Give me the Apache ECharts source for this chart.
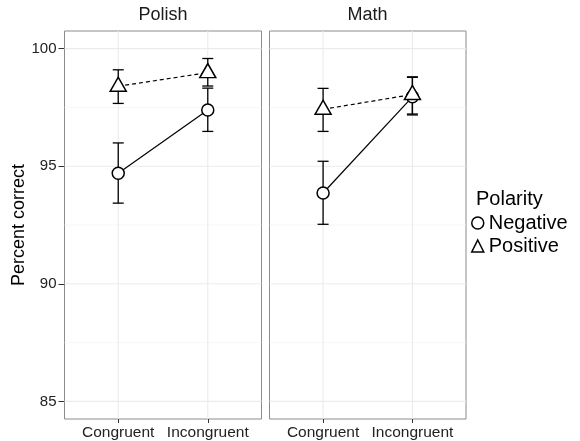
<!DOCTYPE html>
<html>
<head>
<meta charset="utf-8">
<script src="https://cdn.jsdelivr.net/npm/echarts@6/dist/echarts.min.js"></script>
<style>
  html, body { margin: 0; padding: 0; background: #fff; }
  #chart { width: 580px; height: 441px; }
</style>
</head>
<body>
<div id="chart"></div>
<script>
// Conditions on the x axis and the two subject panels
const categories = ['Congruent', 'Incongruent'];
const panels = ['Polish', 'Math'];

// Percent correct: means and error-bar limits, per panel and polarity
const polishNegMean = [94.70, 97.39];
const polishNegLo   = [93.43, 96.48];
const polishNegHi   = [95.99, 98.32];
const polishPosMean = [98.40, 98.98];
const polishPosLo   = [97.67, 98.41];
const polishPosHi   = [99.10, 99.58];

const mathNegMean = [93.86, 97.95];
const mathNegLo   = [92.53, 97.18];
const mathNegHi   = [95.21, 98.78];
const mathPosMean = [97.42, 98.05];
const mathPosLo   = [96.48, 97.22];
const mathPosHi   = [98.31, 98.80];

// Y axis ticks and minor grid values
const yTicks = [85, 90, 95, 100];
const yMinor = [87.5, 92.5, 97.5];

const FONT = '"Liberation Sans", Arial, Helvetica, sans-serif';
const Y_MIN = 84.25, Y_MAX = 100.75;
const X_MIN = -0.6, X_MAX = 1.6;

const panelData = [
  { neg: [polishNegMean, polishNegLo, polishNegHi], pos: [polishPosMean, polishPosLo, polishPosHi] },
  { neg: [mathNegMean, mathNegLo, mathNegHi], pos: [mathPosMean, mathPosLo, mathPosHi] }
];

const grids = [
  { left: 64.5, top: 31, width: 197, height: 388.5 },
  { left: 269.5, top: 31, width: 196.5, height: 388.5 }
].map(g => Object.assign(g, { show: true, borderColor: '#8c8c8c', borderWidth: 1, backgroundColor: '#fff', containLabel: false }));

const xAxes = panels.map((p, i) => ({
  gridIndex: i, type: 'value', min: X_MIN, max: X_MAX,
  axisLine: { show: false, onZero: false },
  splitLine: { show: false },
  axisTick: { show: true, length: 4, customValues: [0, 1], lineStyle: { color: '#333', width: 1 } },
  axisLabel: {
    customValues: [0, 1], margin: 6, fontSize: 15.5, color: '#222', fontFamily: FONT,
    formatter: v => categories[Math.round(v)]
  }
}));

const yAxes = panels.map((p, i) => ({
  gridIndex: i, type: 'value', min: Y_MIN, max: Y_MAX,
  axisLine: { show: false, onZero: false },
  splitLine: { show: false },
  axisTick: { show: i === 0, length: 6, customValues: yTicks, lineStyle: { color: '#333', width: 1 } },
  axisLabel: { show: i === 0, customValues: yTicks, margin: 8, fontSize: 15, color: '#222', fontFamily: FONT },
  name: i === 0 ? 'Percent correct' : '',
  nameLocation: 'middle', nameGap: 36,
  nameTextStyle: { fontSize: 18, color: '#000', fontFamily: FONT }
}));

// Background grid lines: kind 0 = major horizontal, 1 = minor horizontal, 2 = vertical
function gridLineItems() {
  const items = [];
  yTicks.forEach(v => items.push([0, v]));
  yMinor.forEach(v => items.push([1, v]));
  categories.forEach((c, k) => items.push([2, k]));
  return items;
}

function renderGridLine(params, api) {
  const cs = params.coordSys;
  const kind = api.value(0), v = api.value(1);
  if (kind === 2) {
    const x = api.coord([v, 90])[0];
    return { type: 'line', shape: { x1: x, y1: cs.y, x2: x, y2: cs.y + cs.height },
      style: { stroke: '#ebebeb', lineWidth: 1.1 } };
  }
  const y = api.coord([0, v])[1];
  return { type: 'line', shape: { x1: cs.x, y1: y, x2: cs.x + cs.width, y2: y },
    style: { stroke: kind === 0 ? '#ebebeb' : '#f4f4f4', lineWidth: kind === 0 ? 1.1 : 0.7 } };
}

function renderErrorBar(params, api) {
  const x = api.value(0);
  const top = api.coord([x, api.value(2)]);
  const bot = api.coord([x, api.value(1)]);
  const hw = 5.5;
  const st = { stroke: '#000', lineWidth: 1.3 };
  return { type: 'group', children: [
    { type: 'line', shape: { x1: top[0], y1: top[1], x2: bot[0], y2: bot[1] }, style: st },
    { type: 'line', shape: { x1: top[0] - hw, y1: top[1], x2: top[0] + hw, y2: top[1] }, style: st },
    { type: 'line', shape: { x1: bot[0] - hw, y1: bot[1], x2: bot[0] + hw, y2: bot[1] }, style: st }
  ] };
}

const pointSeries = [], lineSeries = [], barSeries = [], gridSeries = [];

panelData.forEach((pd, i) => {
  gridSeries.push({
    type: 'custom', xAxisIndex: i, yAxisIndex: i, z: 1, silent: true,
    renderItem: renderGridLine, data: gridLineItems()
  });
  [['Negative', pd.neg], ['Positive', pd.pos]].forEach(([name, arr]) => {
    const [mean, lo, hi] = arr;
    barSeries.push({
      type: 'custom', name: name, xAxisIndex: i, yAxisIndex: i, z: 2, silent: true,
      renderItem: renderErrorBar,
      encode: { x: 0, y: [1, 2] },
      data: categories.map((c, k) => [k, lo[k], hi[k]])
    });
    lineSeries.push({
      type: 'line', name: name, xAxisIndex: i, yAxisIndex: i, z: 3, silent: true,
      showSymbol: false, symbol: 'none',
      lineStyle: { color: '#000', width: 1.2, type: name === 'Positive' ? [4, 3] : 'solid' },
      data: categories.map((c, k) => [k, mean[k]])
    });
    pointSeries.push({
      type: 'scatter', name: name, xAxisIndex: i, yAxisIndex: i, z: 5, silent: true,
      symbol: name === 'Positive' ? 'triangle' : 'circle',
      symbolSize: name === 'Positive' ? [16, 14] : 12,
      symbolOffset: name === 'Positive' ? [0, -2] : [0, 0],
      itemStyle: { color: '#fff', borderColor: '#000', borderWidth: 1.5, opacity: 1 },
      data: categories.map((c, k) => [k, mean[k]])
    });
  });
});

const chart = echarts.init(document.getElementById('chart'), null, { renderer: 'canvas' });
chart.setOption({
  animation: false,
  backgroundColor: '#fff',
  textStyle: { fontFamily: FONT },
  title: [
    { text: panels[0], left: 163, top: 6, textAlign: 'center', padding: 0,
      textStyle: { fontSize: 18, fontWeight: 'normal', color: '#1a1a1a', fontFamily: FONT } },
    { text: panels[1], left: 367.5, top: 6, textAlign: 'center', padding: 0,
      textStyle: { fontSize: 18, fontWeight: 'normal', color: '#1a1a1a', fontFamily: FONT } },
    { text: 'Polarity', left: 476, top: 189, padding: 0,
      textStyle: { fontSize: 20, fontWeight: 'normal', color: '#000', fontFamily: FONT } }
  ],
  legend: {
    orient: 'vertical', left: 466, top: 208,
    itemWidth: 12, itemHeight: 12, itemGap: 3,
    selectedMode: false,
    data: [{ name: 'Negative', icon: 'circle' }, { name: 'Positive', icon: 'triangle' }],
    itemStyle: { color: '#fff', borderColor: '#000', borderWidth: 1.5 },
    textStyle: { fontSize: 20, color: '#000', fontFamily: FONT }
  },
  grid: grids,
  xAxis: xAxes,
  yAxis: yAxes,
  series: pointSeries.concat(lineSeries, barSeries, gridSeries)
});
</script>
</body>
</html>
